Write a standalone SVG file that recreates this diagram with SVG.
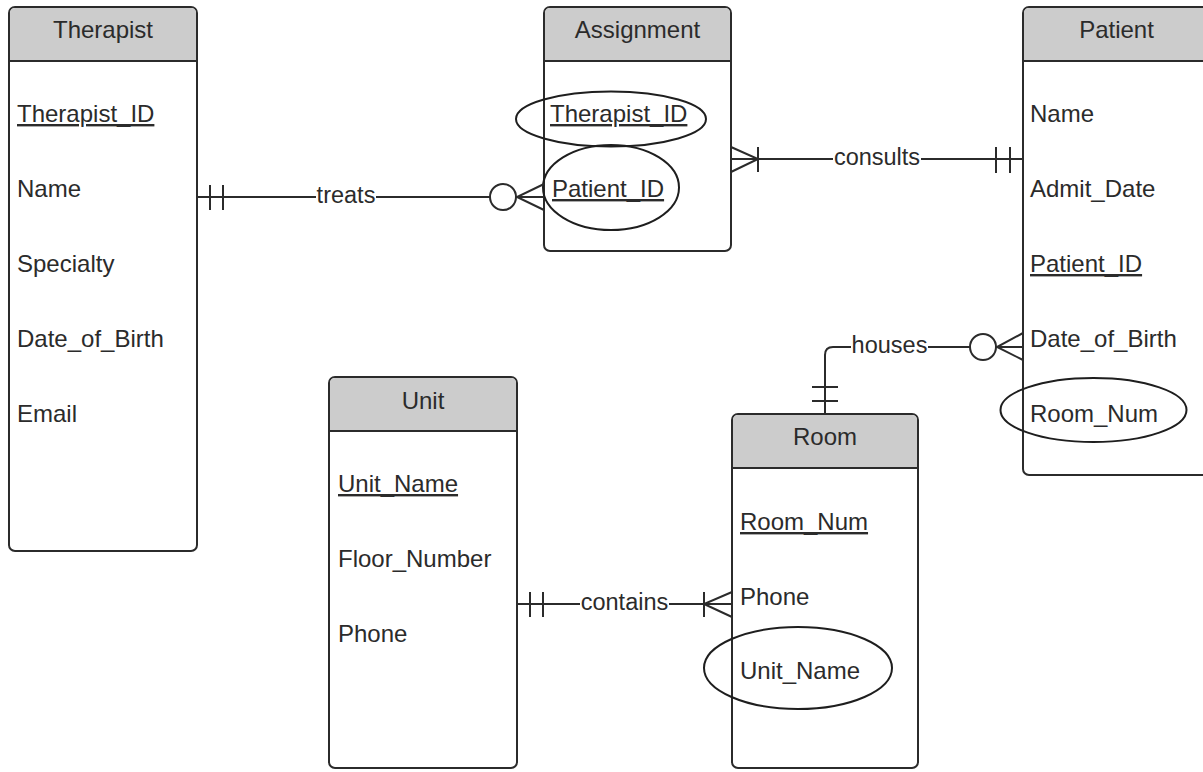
<svg xmlns="http://www.w3.org/2000/svg" width="1203" height="772" viewBox="0 0 1203 772">
<style>
  .box { fill: #ffffff; stroke: #2b2b2b; stroke-width: 2; }
  .hdr { fill: #cccccc; stroke: none; }
  .sep { stroke: #2b2b2b; stroke-width: 2; fill: none; }
  .ttl { font-family: "Liberation Sans", Arial, sans-serif; font-size: 24px; fill: #2b2b2b; text-anchor: middle; }
  .att { font-family: "Liberation Sans", Arial, sans-serif; font-size: 24px; fill: #2b2b2b; }
  .key { text-decoration: underline; }
  .lbl { font-family: "Liberation Sans", Arial, sans-serif; font-size: 23.5px; fill: #2b2b2b; text-anchor: middle; }
  .ln { stroke: #2b2b2b; stroke-width: 2; fill: none; }
  .circ { stroke: #2b2b2b; stroke-width: 2; fill: #ffffff; }
  .ell { stroke: #1e1e1e; stroke-width: 2; fill: none; }
</style>
<rect x="0" y="0" width="1203" height="772" fill="#ffffff"/>

<g id="therapist">
  <rect class="box" x="9" y="7" width="188" height="544" rx="6"/>
  <path class="hdr" d="M10,61 V13 Q10,8 15,8 H191 Q196,8 196,13 V61 Z"/>
  <line class="sep" x1="9" y1="61" x2="197" y2="61"/>
  <text class="ttl" x="103" y="38">Therapist</text>
  <text class="att key" x="17" y="122">Therapist_ID</text>
  <text class="att" x="17" y="197">Name</text>
  <text class="att" x="17" y="272">Specialty</text>
  <text class="att" x="17" y="347">Date_of_Birth</text>
  <text class="att" x="17" y="422">Email</text>
</g>

<g id="assignment">
  <rect class="box" x="544" y="7" width="187" height="244" rx="6"/>
  <path class="hdr" d="M545,61 V13 Q545,8 550,8 H725 Q730,8 730,13 V61 Z"/>
  <line class="sep" x1="544" y1="61" x2="731" y2="61"/>
  <text class="ttl" x="637.5" y="38">Assignment</text>
  <text class="att key" x="550" y="122">Therapist_ID</text>
  <text class="att key" x="552" y="197">Patient_ID</text>
  <ellipse class="ell" cx="611" cy="119" rx="95" ry="27.5"/>
  <ellipse class="ell" cx="611" cy="187.5" rx="68" ry="42.5"/>
</g>

<g id="patient">
  <rect class="box" x="1023" y="7" width="187" height="468" rx="6"/>
  <path class="hdr" d="M1024,61 V13 Q1024,8 1029,8 H1204 Q1209,8 1209,13 V61 Z"/>
  <line class="sep" x1="1023" y1="61" x2="1210" y2="61"/>
  <text class="ttl" x="1116.5" y="38">Patient</text>
  <text class="att" x="1030" y="122">Name</text>
  <text class="att" x="1030" y="197">Admit_Date</text>
  <text class="att key" x="1030" y="272">Patient_ID</text>
  <text class="att" x="1030" y="347">Date_of_Birth</text>
  <text class="att" x="1030" y="422">Room_Num</text>
  <ellipse class="ell" cx="1093.5" cy="410" rx="93" ry="32"/>
</g>

<g id="unit">
  <rect class="box" x="329" y="377" width="188" height="391" rx="6"/>
  <path class="hdr" d="M330,431 V383 Q330,378 335,378 H511 Q516,378 516,383 V431 Z"/>
  <line class="sep" x1="329" y1="431" x2="517" y2="431"/>
  <text class="ttl" x="423" y="409">Unit</text>
  <text class="att key" x="338" y="492">Unit_Name</text>
  <text class="att" x="338" y="567">Floor_Number</text>
  <text class="att" x="338" y="642">Phone</text>
</g>

<g id="room">
  <rect class="box" x="732" y="414" width="186" height="354" rx="6"/>
  <path class="hdr" d="M733,468 V420 Q733,415 738,415 H912 Q917,415 917,420 V468 Z"/>
  <line class="sep" x1="732" y1="468" x2="918" y2="468"/>
  <text class="ttl" x="825" y="445">Room</text>
  <text class="att key" x="740" y="530">Room_Num</text>
  <text class="att" x="740" y="605">Phone</text>
  <text class="att" x="740" y="679">Unit_Name</text>
  <ellipse class="ell" cx="798" cy="668" rx="94" ry="41"/>
</g>

<g id="connectors">
  <g id="treats">
    <line class="ln" x1="197" y1="197" x2="316" y2="197"/>
    <line class="ln" x1="376" y1="197" x2="544" y2="197"/>
    <line class="ln" x1="210" y1="185" x2="210" y2="210"/>
    <line class="ln" x1="223" y1="185" x2="223" y2="210"/>
    <path class="ln" d="M544,184 L517,197 L544,210"/>
    <circle class="circ" cx="503" cy="197" r="13"/>
    <text class="lbl" x="346" y="203">treats</text>
  </g>
  <g id="consults">
    <line class="ln" x1="731" y1="159" x2="833" y2="159"/>
    <line class="ln" x1="921" y1="159" x2="1023" y2="159"/>
    <path class="ln" d="M731,147 L758,159 L731,172"/>
    <line class="ln" x1="758" y1="147" x2="758" y2="172"/>
    <line class="ln" x1="996" y1="147" x2="996" y2="173"/>
    <line class="ln" x1="1010" y1="147" x2="1010" y2="173"/>
    <text class="lbl" x="877" y="165">consults</text>
  </g>
  <g id="houses">
    <path class="ln" d="M1023,347 H928"/>
    <path class="ln" d="M851,347 H833 Q825,347 825,355 V414"/>
    <path class="ln" d="M1023,333 L997,347 L1023,360"/>
    <circle class="circ" cx="983" cy="347" r="13"/>
    <line class="ln" x1="812" y1="387" x2="838" y2="387"/>
    <line class="ln" x1="812" y1="401" x2="838" y2="401"/>
    <text class="lbl" x="889.5" y="353">houses</text>
  </g>
  <g id="contains">
    <line class="ln" x1="517" y1="604" x2="580" y2="604"/>
    <line class="ln" x1="669" y1="604" x2="732" y2="604"/>
    <line class="ln" x1="530" y1="592" x2="530" y2="617"/>
    <line class="ln" x1="543" y1="592" x2="543" y2="617"/>
    <path class="ln" d="M732,592 L704,604 L732,617"/>
    <line class="ln" x1="704" y1="592" x2="704" y2="617"/>
    <text class="lbl" x="624.5" y="610">contains</text>
  </g>
</g>
</svg>
